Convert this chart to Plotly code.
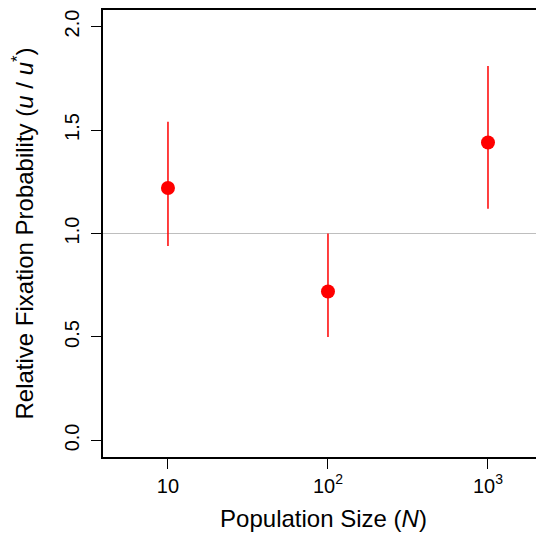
import plotly.graph_objects as go

# Population sizes and relative fixation probabilities (u/u*)
pop_size = [10, 100, 1000]
rel_fix = [1.22, 0.72, 1.44]
err_hi = [1.54, 1.00, 1.81]
err_lo = [0.94, 0.50, 1.12]

tick_vals = [10, 100, 1000]
tick_text = ["10", "10<sup>2</sup>", "10<sup>3</sup>"]
y_ticks = [0.0, 0.5, 1.0, 1.5, 2.0]
y_text = ["0.0", "0.5", "1.0", "1.5", "2.0"]

font_family = "Liberation Sans, Arial, Helvetica, sans-serif"

fig = go.Figure()

fig.add_trace(go.Scatter(
    x=pop_size,
    y=rel_fix,
    mode="markers",
    marker=dict(color="#ff0000", size=14),
    error_y=dict(
        type="data",
        symmetric=False,
        array=[h - v for h, v in zip(err_hi, rel_fix)],
        arrayminus=[v - l for v, l in zip(rel_fix, err_lo)],
        color="#ff0000",
        thickness=1.5,
        width=0,
    ),
    showlegend=False,
))

# reference line at 1.0
fig.add_shape(type="line", xref="paper", x0=0, x1=1, yref="y", y0=1, y1=1,
              line=dict(color="#bebebe", width=1.2), layer="below")

# page has an 8px body margin, so the figure is a bit smaller than the window
fig.update_layout(
    width=536,
    height=530,
    margin=dict(l=95, r=0, t=0, b=81),
    plot_bgcolor="white",
    paper_bgcolor="white",
    font=dict(family=font_family, color="black"),
    xaxis=dict(
        type="log",
        range=[0.594, 3.35],
        tickvals=tick_vals,
        ticktext=tick_text,
        ticks="outside",
        ticklen=10,
        tickwidth=1,
        tickcolor="black",
        showline=True,
        linecolor="black",
        linewidth=1.5,
        mirror=True,
        showgrid=False,
        zeroline=False,
        tickfont=dict(size=20),
        title=dict(text="Population Size (<i>N</i>)", font=dict(size=24), standoff=14),
    ),
    yaxis=dict(
        range=[-0.08, 2.08],
        tickvals=y_ticks,
        ticktext=y_text,
        tickangle=-90,
        ticks="outside",
        ticklen=10,
        tickwidth=1,
        tickcolor="black",
        ticklabelstandoff=4,
        showline=True,
        linecolor="black",
        linewidth=1.5,
        showgrid=False,
        zeroline=False,
        tickfont=dict(size=20),
        title=dict(text="Relative Fixation Probability (<i>u</i> / <i>u</i><sup>*</sup>)",
                   font=dict(size=24), standoff=22),
    ),
)

fig.write_html("out.html")
